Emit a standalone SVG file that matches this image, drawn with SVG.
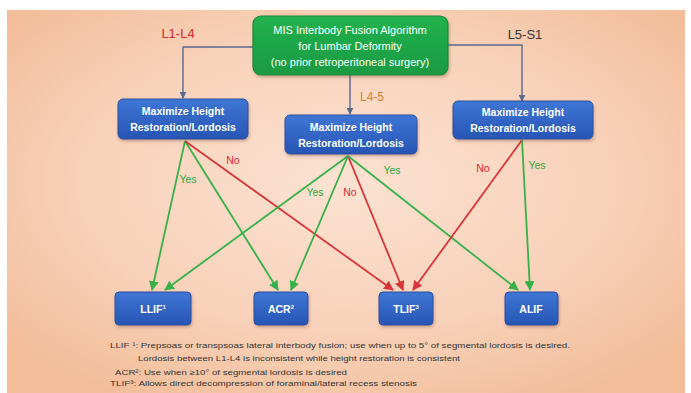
<svg xmlns="http://www.w3.org/2000/svg" width="691" height="393" viewBox="0 0 691 393">
<defs>
<radialGradient id="bg" cx="0.5" cy="0.45" r="0.65">
<stop offset="0" stop-color="#fbe2d2"/>
<stop offset="0.6" stop-color="#f8d1b9"/>
<stop offset="1" stop-color="#f3bd9a"/>
</radialGradient>
<linearGradient id="blue" x1="0" y1="0" x2="0" y2="1">
<stop offset="0" stop-color="#3f76d6"/>
<stop offset="1" stop-color="#2755b4"/>
</linearGradient>
<linearGradient id="green" x1="0" y1="0" x2="0" y2="1">
<stop offset="0" stop-color="#22b24e"/>
<stop offset="1" stop-color="#1a9a42"/>
</linearGradient>
<filter id="sh" x="-10%" y="-10%" width="130%" height="140%">
<feDropShadow dx="1" dy="2" stdDeviation="1.5" flood-color="#7a4a30" flood-opacity="0.35"/>
</filter>
<marker id="ag" viewBox="0 0 10 10" refX="9" refY="5" markerWidth="5.5" markerHeight="5.5" orient="auto"><path d="M0,0 L10,5 L0,10 z" fill="#38b04a"/></marker>
<marker id="ar" viewBox="0 0 10 10" refX="9" refY="5" markerWidth="5.5" markerHeight="5.5" orient="auto"><path d="M0,0 L10,5 L0,10 z" fill="#d8343a"/></marker>
<marker id="ab" viewBox="0 0 10 10" refX="9" refY="5" markerWidth="5" markerHeight="5" orient="auto"><path d="M0,0 L10,5 L0,10 z" fill="#5a6890"/></marker>
</defs>
<style>
text{font-family:"Liberation Sans",Arial,sans-serif;}
.bx{fill:url(#blue);stroke:#2a4f9c;stroke-width:1;filter:url(#sh);}
.bt{fill:#fff;font-size:10.5px;text-anchor:middle;font-weight:bold;}
.gt{fill:#fff;font-size:11px;text-anchor:middle;}
.g{stroke:#38b04a;stroke-width:1.8;fill:none;marker-end:url(#ag);}
.r{stroke:#d8343a;stroke-width:1.8;fill:none;marker-end:url(#ar);}
.b{stroke:#5a6890;stroke-width:1.4;fill:none;marker-end:url(#ab);}
.yes{fill:#2ea844;font-size:10.5px;text-anchor:middle;}
.no{fill:#d42a30;font-size:10.5px;text-anchor:middle;}
.fn{fill:#333;font-size:7.6px;}
</style>
<rect x="0" y="0" width="691" height="393" fill="#ffffff"/>
<rect x="7" y="10" width="678" height="383" fill="url(#bg)"/>

<g id="connectors">
<path class="b" d="M253,47 H183 V98"/>
<path class="b" d="M448,45 H522 V101"/>
<path class="b" d="M350,75 V114"/>
<line class="g" x1="185" y1="141" x2="152" y2="290"/>
<line class="g" x1="185" y1="141" x2="278" y2="290"/>
<line class="r" x1="185" y1="141" x2="393" y2="290"/>
<line class="g" x1="348" y1="156" x2="165" y2="290"/>
<line class="g" x1="348" y1="156" x2="291" y2="290"/>
<line class="r" x1="348" y1="156" x2="403" y2="290"/>
<line class="g" x1="348" y1="156" x2="518" y2="290"/>
<line class="r" x1="522" y1="140" x2="413" y2="290"/>
<line class="g" x1="522" y1="140" x2="530" y2="290"/>
<text class="no" x="233" y="164">No</text>
<text class="yes" x="188" y="183">Yes</text>
<text class="yes" x="392" y="174">Yes</text>
<text class="yes" x="315" y="196">Yes</text>
<text class="no" x="350" y="196">No</text>
<text class="no" x="483" y="172">No</text>
<text class="yes" x="537" y="169">Yes</text>
<text x="178" y="38" fill="#d42a2a" font-size="13" text-anchor="middle">L1-L4</text>
<text x="525" y="39" fill="#333" font-size="13" text-anchor="middle">L5-S1</text>
<text x="372" y="101" fill="#d7822e" font-size="12" text-anchor="middle">L4-5</text>
</g>

<g id="root">
<rect x="253" y="16" width="195" height="59" rx="8" fill="url(#green)" stroke="#178a3a" stroke-width="1.2" filter="url(#sh)"/>
<text class="gt" x="350" y="34">MIS Interbody Fusion Algorithm</text>
<text class="gt" x="350" y="50">for Lumbar Deformity</text>
<text class="gt" x="350" y="66">(no prior retroperitoneal surgery)</text>
</g>

<g id="left">
<rect class="bx" x="118" y="99" width="130" height="40" rx="5"/>
<text class="bt" x="183" y="115">Maximize Height</text>
<text class="bt" x="183" y="131">Restoration/Lordosis</text>
</g>
<g id="center">
<rect class="bx" x="285" y="115" width="132" height="39" rx="5"/>
<text class="bt" x="351" y="131">Maximize Height</text>
<text class="bt" x="351" y="147">Restoration/Lordosis</text>
</g>
<g id="right">
<rect class="bx" x="453" y="101" width="140" height="38" rx="5"/>
<text class="bt" x="523" y="116">Maximize Height</text>
<text class="bt" x="523" y="132">Restoration/Lordosis</text>
</g>

<g id="llif">
<rect class="bx" x="115" y="292" width="76" height="33" rx="4"/>
<text class="bt" x="153" y="313">LLIF<tspan font-size="6" dy="-4">1</tspan></text>
</g>
<g id="acr">
<rect class="bx" x="254" y="292" width="54" height="33" rx="4"/>
<text class="bt" x="281" y="313">ACR<tspan font-size="6" dy="-4">2</tspan></text>
</g>
<g id="tlif">
<rect class="bx" x="379" y="292" width="54" height="33" rx="4"/>
<text class="bt" x="406" y="313">TLIF<tspan font-size="6" dy="-4">3</tspan></text>
</g>
<g id="alif">
<rect class="bx" x="505" y="292" width="53" height="33" rx="4"/>
<text class="bt" x="531" y="313">ALIF</text>
</g>

<g id="footnotes">
<text class="fn" x="110" y="348" textLength="460" lengthAdjust="spacingAndGlyphs">LLIF ¹: Prepsoas or transpsoas lateral interbody fusion; use when up to 5° of segmental lordosis is desired.</text>
<text class="fn" x="138" y="361" textLength="322" lengthAdjust="spacingAndGlyphs">Lordosis between L1-L4 is inconsistent while height restoration is consistent</text>
<text class="fn" x="115" y="375" textLength="232" lengthAdjust="spacingAndGlyphs">ACR²: Use when ≥10° of segmental lordosis is desired</text>
<text class="fn" x="110" y="386" textLength="307" lengthAdjust="spacingAndGlyphs">TLIF³: Allows direct decompression of foraminal/lateral recess stenosis</text>
</g>
</svg>
